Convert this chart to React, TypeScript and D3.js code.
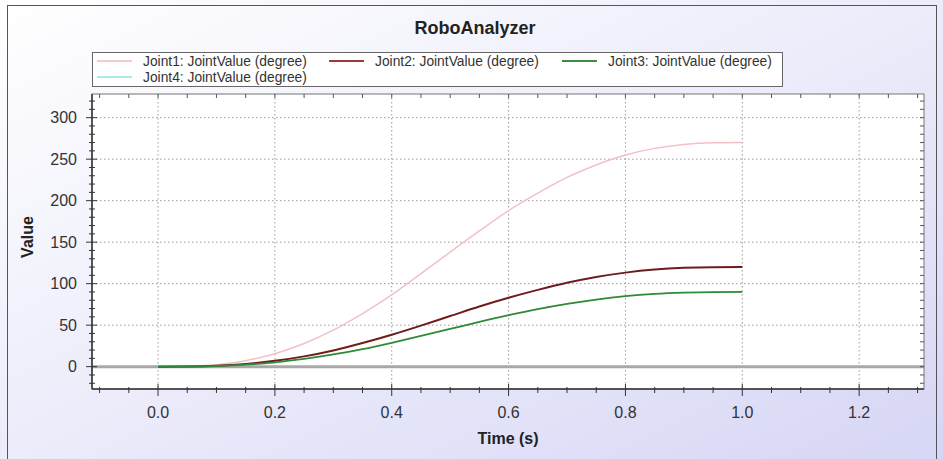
import React from "react";
import * as d3 from "d3";

const times = [0, 0.05, 0.1, 0.15, 0.2, 0.25, 0.3, 0.35, 0.4, 0.45, 0.5, 0.55, 0.6, 0.65, 0.7, 0.75, 0.8, 0.85, 0.9, 0.95, 1.0];
const joint1 = [0, 0.3, 2.3, 7.2, 15.6, 28.0, 44.0, 64.0, 86.5, 112.0, 138, 163.5, 188.0, 209.0, 228.0, 243.0, 255.0, 263.0, 267.8, 269.7, 270];
const joint2 = [0, 0.14, 1.0, 3.2, 7.0, 12.4, 19.6, 28.5, 38.5, 49.5, 61, 72.5, 83.0, 92.5, 101.0, 108.0, 113.3, 117.0, 119.1, 119.9, 120];
const joint3 = [0, 0.1, 0.8, 2.4, 5.2, 9.3, 14.7, 21.2, 28.8, 37.0, 45.5, 54.0, 62.0, 69.3, 75.6, 80.9, 85.0, 87.7, 89.2, 89.9, 90];
const joint4 = [0, 0, 0, 0, 0, 0, 0, 0, 0, 0, 0, 0, 0, 0, 0, 0, 0, 0, 0, 0, 0];

const seriesNames = [
  "Joint1: JointValue (degree)",
  "Joint2: JointValue (degree)",
  "Joint3: JointValue (degree)",
  "Joint4: JointValue (degree)",
];
const xTicks = [0, 0.2, 0.4, 0.6, 0.8, 1.0, 1.2];
const yTicks = [0, 50, 100, 150, 200, 250, 300];

const W = 943;
const H = 459;
const L = 92, R = 924, T = 94, B = 389;
const FONT = "'Liberation Sans', Arial, sans-serif";

export default function App() {
  const x = d3.scaleLinear().domain([-0.113, 1.311]).range([L, R]);
  const y = d3.scaleLinear().domain([-26.9, 328.5]).range([B, T]);

  const data = [joint1, joint2, joint3, joint4];
  const lineColors = ["#f3c0c6", "#6e1c1c", "#2f8a35", "#9fe6df"];
  const lineWidths = [1.5, 2, 1.8, 1.5];
  const legendColors = ["#f6c9cd", "#9c3a3a", "#3a8f3f", "#a6ebe4"];

  const line = d3
    .line<number>()
    .x((_, i) => x(times[i]))
    .y((v) => y(v))
    .curve(d3.curveMonotoneX);

  const xMinor = d3.range(-0.1, 1.3001, 0.05);
  const yMinor = d3.range(-20, 321, 10);

  const legendItems = [
    { lx: 97, row: 0 },
    { lx: 329, row: 0 },
    { lx: 562, row: 0 },
    { lx: 97, row: 1 },
  ];

  return (
    <svg
      width={W}
      height={H}
      style={{ position: "absolute", left: 0, top: 0 }}
      fontFamily={FONT}
    >
      <defs>
        <linearGradient id="bg" x1="0" y1="0" x2="1" y2="1">
          <stop offset="0" stopColor="#ffffff" />
          <stop offset="0.45" stopColor="#eeeefb" />
          <stop offset="1" stopColor="#d6d6f6" />
        </linearGradient>
      </defs>
      <rect x={0} y={0} width={W} height={H} fill="url(#bg)" />
      <rect x={7.5} y={5.5} width={929} height={460} fill="none" stroke="#555" strokeWidth={1} />

      {/* Title */}
      <text x={475} y={34} textAnchor="middle" fontSize={18} fontWeight="bold" fill="#222">
        RoboAnalyzer
      </text>

      {/* Legend */}
      <rect x={92.5} y={52.5} width={690} height={34} fill="#fff" stroke="#666" />
      {legendItems.map((it, i) => {
        const cy = 61 + it.row * 16;
        return (
          <g key={i}>
            <line x1={it.lx} x2={it.lx + 35} y1={cy} y2={cy} stroke={legendColors[i]} strokeWidth={2} />
            <text x={it.lx + 46} y={cy + 5} fontSize={13.8} fill="#333">
              {seriesNames[i]}
            </text>
          </g>
        );
      })}

      {/* Plot area */}
      <rect x={L} y={T} width={R - L} height={B - T} fill="#fff" />

      {/* Grid */}
      {xTicks.map((t) => (
        <line key={"gx" + t} x1={x(t)} x2={x(t)} y1={T} y2={B} stroke="#9a9a9a" strokeWidth={1} strokeDasharray="1.5,2.5" />
      ))}
      {yTicks.map((t) => (
        <line key={"gy" + t} x1={L} x2={R} y1={y(t)} y2={y(t)} stroke="#9a9a9a" strokeWidth={1} strokeDasharray="1.5,2.5" />
      ))}

      {/* Joint4 under zero line */}
      <path d={line(joint4) || ""} fill="none" stroke={lineColors[3]} strokeWidth={lineWidths[3]} />
      {/* Zero line */}
      <line x1={L} x2={R} y1={y(0)} y2={y(0)} stroke="#a8a8a8" strokeWidth={3} />

      {data.slice(0, 3).map((d, i) => (
        <path key={"s" + i} d={line(d) || ""} fill="none" stroke={lineColors[i]} strokeWidth={lineWidths[i]} />
      ))}

      {/* Plot border */}
      <rect x={L} y={T} width={R - L} height={B - T} fill="none" stroke="#777" strokeWidth={1} />
      <line x1={L} x2={R} y1={B} y2={B} stroke="#333" strokeWidth={1.5} />
      <line x1={L} x2={L} y1={T} y2={B} stroke="#333" strokeWidth={1.5} />

      {/* X ticks (bottom & top) */}
      {xMinor.map((t, i) => {
        const major = Math.abs(Math.round(t * 5) - t * 5) < 1e-6;
        const px = x(t);
        return (
          <g key={"xt" + i}>
            <line x1={px} x2={px} y1={major ? B - 5 : B - 2} y2={major ? B + 7 : B + 4} stroke="#333" strokeWidth={1} />
            <line x1={px} x2={px} y1={T} y2={T + 4} stroke="#555" strokeWidth={1} />
          </g>
        );
      })}
      {/* Y ticks (left & right) */}
      {yMinor.map((t, i) => {
        const major = t % 50 === 0;
        const py = y(t);
        return (
          <g key={"yt" + i}>
            <line x1={major ? L - 6 : L - 3} x2={major ? L + 5 : L + 3} y1={py} y2={py} stroke="#333" strokeWidth={1} />
            <line x1={R - 4} x2={R} y1={py} y2={py} stroke="#555" strokeWidth={1} />
          </g>
        );
      })}

      {/* Tick labels */}
      {xTicks.map((t) => (
        <text key={"xl" + t} x={x(t)} y={418} textAnchor="middle" fontSize={16} fill="#333">
          {t.toFixed(1)}
        </text>
      ))}
      {yTicks.map((t) => (
        <text key={"yl" + t} x={77} y={y(t) + 5.5} textAnchor="end" fontSize={16} fill="#333">
          {t}
        </text>
      ))}

      {/* Axis titles */}
      <text x={508} y={444} textAnchor="middle" fontSize={16} fontWeight="bold" fill="#222">
        Time (s)
      </text>
      <text
        transform={`translate(33,237) rotate(-90)`}
        textAnchor="middle"
        fontSize={16}
        fontWeight="bold"
        fill="#222"
      >
        Value
      </text>
    </svg>
  );
}
